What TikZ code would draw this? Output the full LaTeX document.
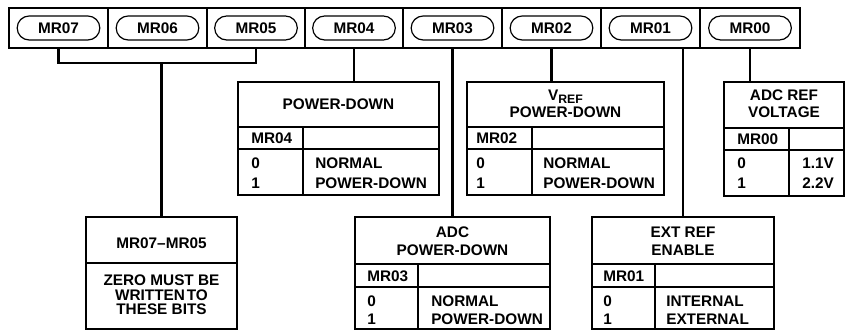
\documentclass[tikz,border=0pt]{standalone}
\usepackage{fontspec}
\setmainfont{Liberation Sans}
\usetikzlibrary{shapes.misc,fit}
\begin{document}
\begin{tikzpicture}[x=0.75pt,y=-0.75pt,
  every node/.style={font=\fontsize{11.5}{13}\selectfont\bfseries},
  frame/.style={draw, line width=1.2pt, inner sep=0pt},
  grid/.style={line width=1.1pt},
  pill/.style={draw, rounded rectangle, line width=0.9pt, minimum width=62pt, minimum height=18pt, inner sep=0pt},
  conn/.style={line width=1.9pt},
  lt/.style={anchor=base west, inner sep=0pt},
  ct/.style={anchor=base, inner sep=0pt}]
\useasboundingbox (0,0) rectangle (846,331);
% register bar
\node[fit={(9,8)(800,48)}, draw, line width=2pt, inner sep=0pt] (bar) {};
\foreach \x in {108,207,305,403,502,601,700}
  \draw[line width=0.8pt] (\x,8) -- (\x,48);
\node[pill] (p07) at (58.5,28) {MR07};
\node[pill] (p06) at (157.5,28) {MR06};
\node[pill] (p05) at (256,28) {MR05};
\node[pill] (p04) at (354,28) {MR04};
\node[pill] (p03) at (452.5,28) {MR03};
\node[pill] (p02) at (551.5,28) {MR02};
\node[pill] (p01) at (650.5,28) {MR01};
\node[pill] (p00) at (750,28) {MR00};
% tables
\node[frame, fit={(86,217)(237,329)}] (tb) {};
\node[frame, fit={(238,82)(439,195)}] (t04) {};
\node[frame, fit={(355,217)(550,329)}] (t03) {};
\node[frame, fit={(467,82)(664,195)}] (t02) {};
\node[frame, fit={(592,217)(774,329)}] (t01) {};
\node[frame, fit={(724,82)(844,196)}] (t00) {};
% connectors
\coordinate (brk) at (0,63);
\draw[conn] (p07 |- bar.south) -- (p07 |- brk) -- (p05 |- brk) -- (p05 |- bar.south);
\draw[conn] (tb.north |- brk) -- (tb.north);
\draw[conn] (p04 |- bar.south) -- (p04 |- t04.north);
\draw[conn] (p03 |- bar.south) -- (p03 |- t03.north);
\draw[conn] (p02 |- bar.south) -- (p02 |- t02.north);
\draw[conn] (t01.north |- bar.south) -- (t01.north);
\draw[conn] (p00 |- bar.south) -- (p00 |- t00.north);
% MR07-MR05 box
\draw[grid] (86,263) -- (237,263);
\node[ct] (tbh) at (161.5,248.5) {MR07--MR05};
\node[ct] (tb1) at (161.5,285.5) {ZERO MUST BE};
\node[ct] (tb2) at (161.5,300.5) {WRITTEN\hspace{0.12em}TO};
\node[ct] (tb3) at (161.5,315) {THESE BITS};
% MR04 table
\draw[grid] (238,127) -- (439,127) (238,149) -- (439,149) (303,127) -- (303,195);
\node[ct] (t04h) at (338.5,110) {POWER-DOWN};
\node[lt] (t04a) at (251,144) {MR04};
\node[lt] (t04b) at (251,169) {0};
\node[lt] (t04c) at (251,188.5) {1};
\node[lt] (t04d) at (315,169) {NORMAL};
\node[lt] (t04e) at (315,188.5) {POWER-DOWN};
% MR02 table
\draw[grid] (467,127) -- (664,127) (467,149) -- (664,149) (532,127) -- (532,195);
\node[ct] (t02h) at (565.5,100.5) {V{\fontsize{9.2}{10}\selectfont\raisebox{-1.9pt}{REF}}};
\node[ct] (t02i) at (565.5,118) {POWER-DOWN};
\node[lt] (t02a) at (476,144) {MR02};
\node[lt] (t02b) at (476,169) {0};
\node[lt] (t02c) at (476,188.5) {1};
\node[lt] (t02d) at (543,169) {NORMAL};
\node[lt] (t02e) at (543,188.5) {POWER-DOWN};
% MR00 table
\draw[grid] (724,128) -- (844,128) (724,150) -- (844,150) (789,128) -- (789,196);
\node[ct] (t00h) at (784,100.5) {ADC REF};
\node[ct] (t00i) at (784,118) {VOLTAGE};
\node[lt] (t00a) at (737,145) {MR00};
\node[lt] (t00b) at (737,169) {0};
\node[lt] (t00c) at (737,189) {1};
\node[lt] (t00d) at (802,169) {1.1V};
\node[lt] (t00e) at (802,189) {2.2V};
% MR03 table
\draw[grid] (355,264) -- (550,264) (355,287) -- (550,287) (418,264) -- (418,329);
\node[ct] (t03h) at (452.5,237.5) {ADC};
\node[ct] (t03i) at (452.5,255.5) {POWER-DOWN};
\node[lt] (t03a) at (367,282) {MR03};
\node[lt] (t03b) at (367,306.5) {0};
\node[lt] (t03c) at (367,325) {1};
\node[lt] (t03d) at (431,306.5) {NORMAL};
\node[lt] (t03e) at (431,325) {POWER-DOWN};
% MR01 table
\draw[grid] (592,264) -- (774,264) (592,287) -- (774,287) (655,264) -- (655,329);
\node[ct] (t01h) at (683,237.5) {EXT REF};
\node[ct] (t01i) at (683,255.5) {ENABLE};
\node[lt] (t01a) at (603,282) {MR01};
\node[lt] (t01b) at (603,306.5) {0};
\node[lt] (t01c) at (603,325) {1};
\node[lt] (t01d) at (666,306.5) {INTERNAL};
\node[lt] (t01e) at (666,325) {EXTERNAL};
\end{tikzpicture}
\end{document}
